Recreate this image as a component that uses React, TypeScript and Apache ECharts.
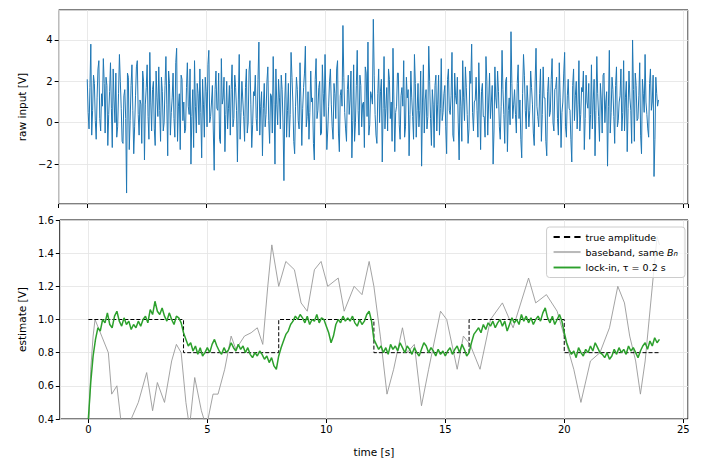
import React, { useEffect, useRef } from 'react';
import * as echarts from 'echarts';

// raw input samples, 0.0375 s apart (two interleaved runs of readings)
const rawEven = [
  2.1,-0.3,3.8,0.6,1.9,-0.8,2.6,0.2,1.4,3.1,-0.5,1.8,0.4,2.9,-1.2,1.1,2.4,-0.2,3.3,0.7,
  -1.0,1.6,-3.4,2.2,0.1,2.8,-1.5,1.3,3.0,-0.6,0.9,2.5,-1.8,1.7,0.3,3.4,-0.4,2.0,-1.1,1.2,
  2.7,-0.9,1.5,0.0,3.2,-1.6,1.9,0.5,2.4,-0.7,3.6,0.8,-1.3,2.1,1.0,-0.3,2.9,0.4,-2.0,1.6,
  3.0,-0.5,1.4,2.6,-1.7,0.9,2.2,-0.2,3.5,0.3,1.8,-2.3,2.5,0.6,-0.8,3.1,1.2,-1.4,2.0,0.7,
  -0.6,2.8,0.2,1.7,-1.9,3.3,0.5,1.1,-0.9,2.6,0.0,3.0,-1.2,1.5,2.3,-0.4,3.9,0.8,-1.6,1.9,
  0.4,2.7,-1.0,1.3,3.2,-2.0,0.9,2.1,-0.3,1.6,-2.8,2.4,0.6,-0.7,3.4,1.0,-1.5,2.2,0.1,2.9,
  -1.1,1.7,3.7,0.3,-0.8,2.5,1.2,-1.8,3.1,0.6,2.0,-0.5,1.4,3.3,-1.3,0.8,2.6,-0.2,1.9,0.2,
  3.0,-1.4,1.6,4.7,0.5,-0.9,2.3,1.1,-1.7,2.8,0.0,3.5,-0.6,1.8,0.9,-1.2,2.4,3.9,-0.1,1.3,
  5.0,0.4,-1.0,2.6,1.5,-1.9,3.2,0.7,-0.4,2.1,1.0,3.6,-1.4,0.8,2.4,-0.8,1.7,3.0,-0.2,1.2,
  -1.6,2.5,0.3,3.3,-0.7,1.9,0.6,-2.1,2.8,1.1,-0.3,3.7,0.2,1.6,-1.2,2.3,0.9,-0.6,3.1,0.5,
  1.8,-1.5,2.6,0.4,3.4,-0.9,1.3,2.2,-1.8,0.8,3.0,0.1,1.7,-1.0,2.5,3.8,-0.4,1.1,0.6,2.9,
  -1.3,1.9,0.3,3.2,-0.6,2.4,1.0,-2.0,2.7,0.7,1.5,-0.8,3.5,0.4,2.0,-1.4,1.2,4.4,0.2,1.6,
  -0.5,2.8,1.1,-1.7,3.3,0.6,1.8,-0.2,2.5,0.9,-1.1,3.6,0.3,1.4,-0.9,2.7,1.2,-1.6,2.2,0.5,
  3.1,-0.4,1.7,0.2,2.9,-1.2,1.0,3.4,-0.7,2.1,0.6,-1.9,2.6,1.3,-0.3,3.0,0.4,1.5,-1.3,2.3,
  0.7,-0.8,2.8,1.1,-1.6,3.2,0.3,1.9,-0.5,2.4,1.0,-2.1,3.5,0.5,1.6,-1.0,2.7,0.1,1.3,-0.4,
  3.0,1.2,-1.4,2.5,0.6,4.0,-0.9,1.8,0.2,2.9,-1.5,1.4,3.3,0.4,-0.7,2.6,1.0,-2.6,2.2,0.8,
];
const rawOdd = [
  0.5,1.7,-0.6,2.3,0.1,1.2,3.0,-0.4,0.8,1.9,2.2,-1.1,1.5,0.7,2.6,0.0,-0.7,1.4,2.0,-0.9,
  1.3,0.2,2.4,-1.3,1.8,0.6,-0.2,2.7,0.4,1.1,-1.0,2.0,0.9,2.8,-0.8,1.0,1.6,-0.3,2.5,0.3,
  0.6,2.2,-0.4,1.8,0.9,2.5,-0.6,1.2,0.2,2.9,-0.9,1.4,2.3,0.1,-0.5,1.7,0.8,2.6,0.3,-1.2,
  0.8,1.9,-0.1,0.5,2.1,-0.7,1.5,2.8,0.0,1.0,-0.4,1.6,0.7,2.4,-1.0,0.9,2.2,0.4,-0.3,1.8,
  1.6,-0.2,2.3,0.6,1.1,-0.8,2.0,0.3,1.7,-0.5,2.5,0.9,-0.1,1.3,0.2,2.1,-0.6,1.5,0.7,-0.2,
  2.0,0.1,1.4,-0.5,0.9,2.6,-0.1,1.2,2.3,0.0,1.1,-0.7,1.9,0.4,2.2,-0.9,0.8,1.6,-0.3,1.0,
  0.7,2.4,-0.2,1.5,0.5,1.0,-1.0,2.1,0.2,1.7,-0.6,2.8,0.3,1.1,-0.4,2.0,0.9,-0.8,1.4,2.6,
  -0.5,1.3,0.8,2.2,-0.3,1.6,0.4,2.5,0.1,-0.9,1.8,0.6,2.3,-0.2,1.0,2.7,0.3,-0.6,1.5,0.9,
  2.3,-0.6,1.4,0.0,2.1,0.7,-0.3,1.7,2.6,0.2,-0.9,1.1,0.5,2.4,-0.1,1.3,0.8,-0.7,2.2,1.6,
  0.4,1.2,-0.8,1.9,0.6,-0.2,2.5,1.0,-0.5,1.6,0.3,2.0,-1.1,0.9,1.8,-0.4,2.3,0.7,0.1,1.4,
  -0.2,2.1,0.6,1.3,-0.6,2.4,0.9,0.0,1.6,-0.9,1.2,2.7,0.4,-0.3,1.9,0.5,1.0,2.2,-0.7,1.1,
  1.5,0.3,-0.7,2.0,1.0,0.2,1.8,-0.4,1.2,2.5,-0.2,0.8,1.6,-1.0,2.2,0.6,-0.1,1.9,0.9,0.4,
  1.9,0.2,-0.8,1.4,2.3,-0.3,1.0,0.6,1.7,-0.5,2.0,0.8,-0.2,2.6,0.4,1.2,-0.9,1.5,0.3,2.1,
  0.0,1.6,2.2,-0.6,1.2,0.5,2.4,-0.2,1.3,0.7,-0.8,1.8,0.1,2.0,0.9,-0.4,1.7,2.5,0.2,1.0,
  1.9,0.4,-0.3,2.1,0.6,1.4,-0.9,1.1,2.3,0.0,1.5,0.8,-0.5,2.2,0.3,1.8,-0.2,1.0,2.6,0.5,
  -0.4,2.0,0.7,1.2,-1.0,1.6,2.4,0.1,1.3,-0.6,2.1,0.5,1.0,-0.3,1.9,0.6,2.3,-0.8,1.4,1.1,
];
const rawStep = 0.075;

// true amplitude steps
const trueAmp = [
  [0, 1.0], [4, 1.0], [4, 0.8], [8, 0.8], [8, 1.0], [12, 1.0], [12, 0.8],
  [16, 0.8], [16, 1.0], [20, 1.0], [20, 0.8], [24, 0.8],
];

// baseband estimate, [t, V]
const baseband = [
  [0, 0.3], [0.1, 0.7], [0.2, 0.9], [0.28, 1.0], [0.56, 0.9], [0.84, 0.8], [0.98, 0.55],
  [1.2, 0.6], [1.4, 0.35], [1.6, 0.3], [1.8, 0.4], [2.1, 0.5], [2.45, 0.68], [2.7, 0.45],
  [2.9, 0.62], [3.2, 0.5], [3.5, 0.75], [3.7, 0.85], [3.9, 0.8], [4.1, 0.5], [4.25, 0.35],
  [4.47, 0.65], [4.75, 0.45], [4.96, 0.35], [5.24, 0.55], [5.45, 0.55], [5.73, 0.7],
  [6.0, 0.9], [6.2, 0.82], [6.56, 0.9], [6.84, 0.92], [7.1, 0.95], [7.33, 0.85], [7.54, 1.2],
  [7.71, 1.45], [8.0, 1.2], [8.3, 1.35], [8.66, 1.3], [8.94, 1.1], [9.2, 1.05], [9.5, 1.3],
  [9.78, 1.35], [10.06, 1.2], [10.5, 1.25], [10.75, 1.05], [11.17, 1.2], [11.5, 1.15],
  [11.8, 1.35], [12.0, 1.2], [12.27, 0.9], [12.55, 0.55], [12.83, 0.7], [13.2, 0.95],
  [13.4, 0.8], [13.7, 0.85], [14.0, 0.48], [14.3, 0.7], [14.8, 1.05], [15.06, 1.0],
  [15.5, 0.7], [15.76, 0.9], [16.04, 0.85], [16.46, 0.7], [16.9, 1.0], [17.4, 1.1],
  [17.85, 0.95], [18.5, 1.25], [18.8, 1.1], [19.25, 1.15], [19.7, 1.05], [20.1, 0.85],
  [20.4, 0.7], [20.7, 0.5], [21.1, 0.75], [21.5, 0.8], [21.9, 0.95], [22.25, 1.2],
  [22.53, 1.1], [22.75, 0.9], [23.0, 0.75], [23.2, 0.55], [23.4, 0.75], [23.7, 1.2],
  [23.9, 1.5], [24.0, 1.45],
];

// lock-in estimate, 0.1 s apart
const lockIn = [
  0.40,0.62,0.78,0.88,0.95,0.93,1.00,0.98,1.04,0.97,
  0.95,1.02,1.05,0.99,0.96,1.01,0.97,0.99,0.94,0.97,
  0.95,0.99,0.96,1.00,1.02,0.98,1.06,1.03,1.11,1.05,
  1.03,1.07,1.02,0.99,1.04,1.00,0.97,1.02,1.01,0.98,
  0.92,0.88,0.84,0.86,0.81,0.84,0.79,0.83,0.78,0.80,
  0.83,0.80,0.85,0.88,0.84,0.81,0.79,0.83,0.80,0.82,
  0.86,0.83,0.81,0.85,0.82,0.84,0.80,0.83,0.79,0.77,
  0.80,0.78,0.81,0.79,0.76,0.78,0.74,0.77,0.72,0.70,
  0.78,0.83,0.87,0.91,0.93,0.97,0.99,1.02,1.00,1.03,
  1.01,0.98,1.02,0.97,1.00,0.99,1.03,0.98,1.01,1.00,
  0.96,0.92,0.86,0.90,0.97,1.00,0.98,1.02,0.99,1.01,
  0.99,1.02,0.98,0.96,1.00,0.97,0.99,1.03,1.05,0.99,
  0.88,0.85,0.82,0.84,0.80,0.83,0.79,0.85,0.82,0.84,
  0.81,0.86,0.83,0.80,0.84,0.82,0.79,0.83,0.80,0.78,
  0.82,0.86,0.84,0.80,0.83,0.81,0.78,0.82,0.79,0.81,
  0.78,0.81,0.83,0.79,0.82,0.84,0.80,0.85,0.82,0.78,
  0.80,0.86,0.91,0.93,0.95,0.92,0.97,0.94,0.98,0.96,
  0.99,0.95,0.98,1.00,0.96,0.99,0.93,0.97,1.01,0.98,
  1.00,0.97,1.03,0.99,1.02,0.98,1.01,0.97,1.00,1.02,
  0.99,1.04,1.07,1.01,0.98,1.02,0.97,1.00,1.03,0.99,
  0.92,0.86,0.82,0.79,0.81,0.77,0.83,0.80,0.78,0.82,
  0.80,0.84,0.81,0.86,0.83,0.80,0.79,0.77,0.80,0.76,
  0.78,0.82,0.79,0.83,0.80,0.82,0.79,0.84,0.81,0.83,
  0.80,0.77,0.81,0.84,0.86,0.82,0.87,0.84,0.89,0.86,
  0.88,
];
const lockStep = 0.1;

const font = 'DejaVu Sans';

function App() {
  const chartRef = useRef(null);

  useEffect(() => {
    const chart = echarts.init(chartRef.current, null, { renderer: 'svg' });
    const gridLine = { show: true, lineStyle: { color: '#e3e3e3', width: 0.8 } };
    const xBase = {
      type: 'value', min: -1.2, max: 25.2, splitNumber: 5,
      axisLine: { show: false, onZero: false },
      axisTick: { show: true, length: 4, lineStyle: { color: '#000' } },
      splitLine: gridLine,
      axisLabel: { color: '#000', fontFamily: font, fontSize: 10, margin: 5,
        showMinLabel: false, showMaxLabel: false },
      nameTextStyle: { color: '#000', fontFamily: font, fontSize: 10.5 },
    };
    const yBase = {
      type: 'value',
      axisLine: { show: false, onZero: false },
      axisTick: { show: true, length: 4, lineStyle: { color: '#000' } },
      splitLine: gridLine,
      nameLocation: 'middle',
      nameTextStyle: { color: '#000', fontFamily: font, fontSize: 10.5 },
    };
    const raw = [];
    rawEven.forEach((v, i) => {
      raw.push([i * rawStep, v]);
      raw.push([i * rawStep + rawStep / 2, rawOdd[i]]);
    });
    chart.setOption({
      animation: false,
      grid: [
        { left: 50, right: 5, top: 2, height: 194, show: true, borderColor: '#000', borderWidth: 1 },
        { left: 50, right: 5, top: 212, height: 199, show: true, borderColor: '#000', borderWidth: 1 },
      ],
      xAxis: [
        { ...xBase, gridIndex: 0, axisLabel: { ...xBase.axisLabel, show: false } },
        { ...xBase, gridIndex: 1, name: 'time [s]', nameLocation: 'middle', nameGap: 27 },
      ],
      yAxis: [
        { ...yBase, gridIndex: 0, min: -3.93, max: 5.45, splitNumber: 5,
          name: 'raw input [V]', nameGap: 30,
          axisLabel: { color: '#000', fontFamily: font, fontSize: 10, margin: 6,
            showMinLabel: false, showMaxLabel: false,
            formatter: (v) => (v < 0 ? '\u2212' + Math.abs(v) : String(v)) } },
        { ...yBase, gridIndex: 1, min: 0.4, max: 1.6, interval: 0.2,
          name: 'estimate [V]', nameGap: 32,
          axisLabel: { color: '#000', fontFamily: font, fontSize: 10, margin: 6,
            formatter: (v) => v.toFixed(1) } },
      ],
      legend: {
        right: 8, top: 219,
        orient: 'vertical',
        backgroundColor: 'rgba(255,255,255,0.8)',
        borderColor: '#ccc', borderWidth: 1, borderRadius: 3,
        padding: [5, 7], itemGap: 5, itemWidth: 27, itemHeight: 8,
        textStyle: { fontFamily: font, fontSize: 9.5, color: '#000',
          rich: { i: { fontStyle: 'italic', fontFamily: font, fontSize: 9.5 },
            s: { fontStyle: 'italic', fontFamily: font, fontSize: 7, verticalAlign: 'bottom', padding: [4, 0, 0, 0] } } },
        formatter: (name) => (name === 'baseband' ? 'baseband, same {i|B}{s|n}' : name),
        data: [
          { name: 'true amplitude', icon: 'path://M0,0H3V1H0Z M5,0H8V1H5Z M10,0H13V1H10Z' },
          { name: 'baseband', icon: 'path://M0,0H20V1H0Z' },
          { name: 'lock-in, \u03c4 = 0.2 s', icon: 'path://M0,0H20V1.4H0Z' },
        ],
      },
      series: [
        { name: 'raw', type: 'line', xAxisIndex: 0, yAxisIndex: 0, showSymbol: false,
          data: raw, lineStyle: { color: '#1f77b4', width: 1 } },
        { name: 'true amplitude', type: 'line', xAxisIndex: 1, yAxisIndex: 1, showSymbol: false,
          data: trueAmp, itemStyle: { color: '#000' },
          lineStyle: { color: '#000', width: 1, type: [4, 2] }, z: 3 },
        { name: 'baseband', type: 'line', xAxisIndex: 1, yAxisIndex: 1, showSymbol: false,
          data: baseband, itemStyle: { color: '#999' },
          lineStyle: { color: '#999', width: 0.9 }, clip: true, z: 2 },
        { name: 'lock-in, \u03c4 = 0.2 s', type: 'line', xAxisIndex: 1, yAxisIndex: 1, showSymbol: false,
          data: lockIn.map((v, i) => [i * lockStep, v]), itemStyle: { color: '#2ca02c' },
          lineStyle: { color: '#2ca02c', width: 1.5 }, clip: true, z: 4 },
      ],
    });
    return () => chart.dispose();
  }, []);

  return <div ref={chartRef} style={{ width: 685, height: 454 }} />;
}

export default App;
